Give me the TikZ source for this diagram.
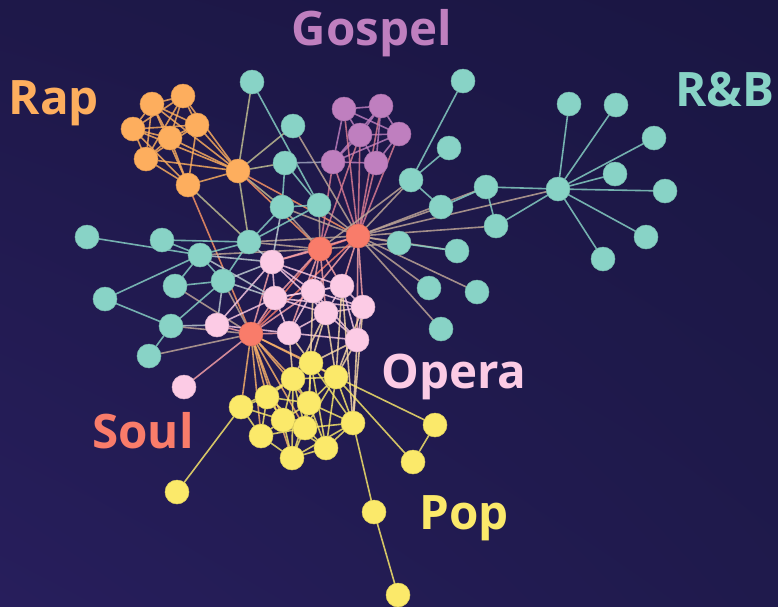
\documentclass[tikz,border=0pt]{standalone}
\usepackage{fontspec}
\setmainfont{Open Sans}
\usetikzlibrary{shadings}
\definecolor{cT}{HTML}{88D3C6}
\definecolor{cO}{HTML}{FDAE5E}
\definecolor{cG}{HTML}{BF7FBF}
\definecolor{cS}{HTML}{F97C6A}
\definecolor{cP}{HTML}{FCCBE5}
\definecolor{cY}{HTML}{FBE96A}
\definecolor{bgUL}{HTML}{1E1849}
\definecolor{bgUR}{HTML}{1A1643}
\definecolor{bgLL}{HTML}{271E5C}
\definecolor{bgLR}{HTML}{1F1A4C}
\pgfdeclarelayer{back}
\pgfdeclarelayer{edges}
\pgfsetlayers{back,edges,main}
\tikzset{
  nd/.style={circle, minimum size=24pt, inner sep=0pt, fill=#1, draw=#1!88!black, line width=0.5pt},
  lab/.style={font=\fontsize{47.5}{48}\selectfont\bfseries, anchor=base, text=#1, inner sep=0pt},
  edge/.style={line width=1.6pt, draw opacity=0.82},
}
\newcommand\myedges[2]{\foreach \a/\b in {#2}{\draw[edge,#1] (\a.center)--(\b.center);}}
\begin{document}
\begin{tikzpicture}[x=1pt,y=-1pt]
\begin{pgfonlayer}{back}
\shade[upper left=bgUL, upper right=bgUR, lower left=bgLL, lower right=bgLR] (0,0) rectangle (778,606);
\end{pgfonlayer}
\useasboundingbox (0,0) rectangle (778,606);
% nodes
\foreach \n/\x/\y in {o1/152/104,o2/183/96,o3/133/129,o4/197/125,o5/170/138,o6/146/159,o7/188/185,o8/238/171}
  \node[nd=cO] (\n) at (\x,\y) {};
\foreach \n/\x/\y in {g1/344/109,g2/381/106,g3/360/135,g4/399/134,g5/333/162,g6/376/163}
  \node[nd=cG] (\n) at (\x,\y) {};
\foreach \n/\x/\y in {s1/358/236,s2/320/249,s3/251/334}
  \node[nd=cS] (\n) at (\x,\y) {};
\foreach \n/\x/\y in {p1/272/262,p2/275/298,p3/313/291,p4/342/286,p5/363/307,p6/326/313,p7/289/333,p8/357/340,p9/217/325,p10/184/387}
  \node[nd=cP] (\n) at (\x,\y) {};
\foreach \n/\x/\y in {y1/311/363,y2/336/377,y3/293/379,y4/267/397,y5/309/403,y6/241/407,y7/283/420,y8/305/428,y9/353/423,y10/261/436,y11/326/448,y12/292/458,y13/435/425,y14/413/462,y15/177/492,y16/374/512,y17/398/595}
  \node[nd=cY] (\n) at (\x,\y) {};
\foreach \n/\x/\y in {t1/252/82,t2/293/126,t3/285/163,t4/282/207,t5/319/205,t6/463/81,t7/449/148,t8/411/180,t9/441/207,t10/486/187,t11/496/226,t12/399/243,t13/457/251,t14/429/288,t15/477/292,t16/441/329,h/558/189,b1/569/104,b2/616/105,b3/654/138,b4/615/174,b5/665/191,b6/646/237,b7/603/259,l1/87/237,l2/162/240,l3/200/255,l4/249/242,l5/175/286,l6/223/281,l7/105/299,l8/171/326,l9/149/356}
  \node[nd=cT] (\n) at (\x,\y) {};
% edges
\begin{pgfonlayer}{edges}
\myedges{cO}{o1/o2,o1/o3,o1/o4,o1/o5,o1/o6,o2/o3,o2/o4,o2/o5,o2/o6,o3/o4,o3/o5,o3/o6,o4/o5,o4/o6,o5/o6,o5/o7,o4/o7,o6/o7,o3/o7,o1/o7,o1/o8,o2/o8,o3/o8,o4/o8,o5/o8,o6/o8,o7/o8}
\myedges{cO!50!cT}{o8/t1,o8/t2,o8/t3,o8/t4,o7/l4,o8/l4}
\myedges{cO!50!cS}{o8/s1,o8/s2,o7/s3}
\myedges{cG}{g1/g2,g1/g3,g1/g4,g1/g5,g2/g3,g2/g4,g2/g6,g3/g4,g3/g5,g3/g6,g4/g5,g4/g6,g5/g6,g2/g5}
\myedges{cG!50!cS}{g1/s1,g2/s1,g3/s1,g4/s1,g5/s1,g6/s1,g5/s2,g3/s2}
\myedges{cG!50!cT}{g5/t3}
\myedges{cS!50!cT}{s1/t2,s1/t5,s1/t8,s1/t9,s1/t10,s1/t11,s1/h,s1/t12,s1/t13,s1/t14,s1/t15,s1/t16,s1/t4,s1/l4,s2/t4,s2/t5,s2/l4,s2/t12,s2/l3,s2/t8,s3/l8,s3/l9,s3/l6,s3/l5}
\myedges{cS}{s1/s2,s1/s3,s2/s3}
\myedges{cS!50!cP}{s1/p1,s1/p3,s1/p4,s1/p5,s1/p8,s2/p1,s2/p2,s2/p3,s2/p4,s2/p6,s2/p7,s3/p9,s3/p10,s3/p1,s3/p2,s3/p7,s3/p3}
\myedges{cS!50!cY}{s3/y1,s3/y2,s3/y3,s3/y4,s3/y5,s3/y6,s3/y7,s3/y8,s3/y10,s3/y12}
\myedges{cP}{p1/p2,p1/p3,p1/p4,p1/p9,p2/p3,p2/p4,p2/p6,p2/p7,p2/p9,p3/p4,p3/p5,p3/p6,p3/p7,p3/p8,p4/p5,p4/p6,p4/p8,p5/p6,p5/p8,p6/p7,p6/p8,p7/p8,p7/p9,p2/p5,p1/p6}
\myedges{cP!50!cT}{p1/l4,p1/l6,p1/l3,p9/l6,p9/l8,p2/l6,p1/t4,p2/l3}
\myedges{cP!50!cY}{p5/y2,p8/y2,p4/y2,p6/y1,p6/y3,p7/y1,p8/y9,p5/y9,p3/y5,p6/y2,p8/y1,p7/y3,p4/y9}
\myedges{cT}{t1/t5,t3/t5,t3/t4,t4/t5,t6/t8,t7/t8,t8/t9,t9/t10,t10/t11,t10/h,t11/h,h/b1,h/b2,h/b3,h/b4,h/b5,h/b6,h/b7,t12/t13,l1/l3,l2/l3,l2/l4,l3/l4,l3/l5,l3/l6,l5/l6,l6/l4,l6/l8,l7/l3,l7/l8,l8/l9,l4/t4,l4/t5}
\myedges{cY}{y1/y2,y1/y3,y1/y5,y1/y4,y1/y9,y2/y3,y2/y5,y2/y9,y2/y11,y2/y8,y2/y13,y2/y14,y3/y4,y3/y5,y3/y7,y3/y8,y4/y5,y4/y6,y4/y7,y4/y10,y4/y8,y5/y7,y5/y8,y5/y9,y5/y11,y5/y12,y6/y7,y6/y10,y6/y15,y6/y3,y7/y8,y7/y10,y7/y12,y7/y11,y8/y9,y8/y11,y8/y12,y9/y11,y9/y16,y9/y12,y10/y12,y11/y12,y13/y14,y16/y17,y1/y11,y3/y12,y10/y8}
\end{pgfonlayer}
% labels
\node[lab=cG] (lgospel) at (372,45) {Gospel};
\node[lab=cO] (lrap) at (54,114) {Rap};
\node[lab=cT] (lrnb) at (725,106) {R\&B};
\node[lab=cP] (lopera) at (454,388) {Opera};
\node[lab=cS] (lsoul) at (143,448) {Soul};
\node[lab=cY] (lpop) at (464,529) {Pop};
\end{tikzpicture}
\end{document}
